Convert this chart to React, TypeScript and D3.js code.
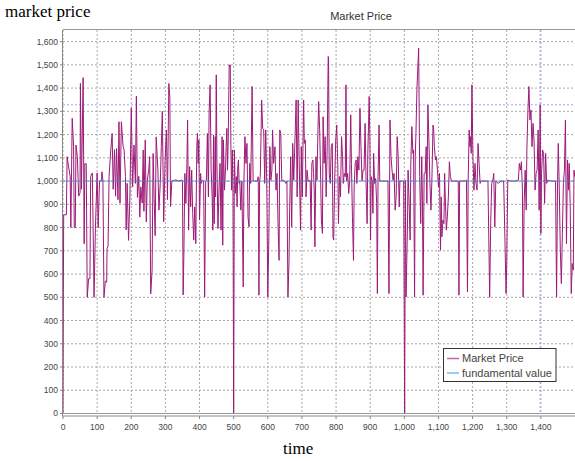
import { scaleLinear, line, format } from "d3";

// time steps and market price at each
const times = [
  0, 1, 2, 10, 12, 15, 21, 23, 27, 31, 33, 36, 38, 42, 46, 50, 51, 54, 59, 62, 64, 68, 71, 75, 79, 81, 86, 91, 95, 100,
  103, 107, 113, 114, 117, 120, 124, 128, 129, 132, 135, 140, 144, 147, 151, 154, 157, 161, 164, 167, 171, 176, 179, 183, 185, 188, 192, 196, 200, 204,
  208, 212, 215, 218, 222, 225, 228, 232, 235, 237, 241, 244, 247, 251, 254, 257, 261, 264, 267, 270, 273, 278, 281, 285, 288, 291, 295, 299, 303, 306,
  310, 313, 315, 319, 330, 340, 348, 350, 352, 354, 357, 360, 363, 365, 368, 371, 374, 377, 380, 383, 386, 389, 392, 394, 396, 398, 400, 403, 405, 408,
  412, 415, 418, 420, 423, 426, 428, 431, 434, 437, 439, 441, 443, 446, 447, 449, 451, 454, 457, 460, 463, 466, 468, 470, 473, 476, 478, 480, 482, 484,
  487, 488, 490, 492, 494, 496, 498, 500, 502, 505, 508, 510, 512, 514, 516, 518, 521, 524, 528, 530, 533, 536, 539, 542, 545, 547, 550, 554, 557, 561,
  565, 569, 572, 574, 576, 578, 582, 585, 588, 591, 594, 597, 600, 603, 606, 609, 612, 614, 617, 621, 624, 627, 630, 633, 635, 638, 641, 645, 649, 653,
  656, 659, 662, 664, 667, 670, 673, 676, 679, 683, 686, 689, 691, 693, 696, 698, 701, 705, 707, 710, 712, 715, 718, 721, 724, 727, 729, 732, 734, 736,
  738, 741, 744, 747, 749, 752, 754, 757, 760, 762, 765, 768, 771, 774, 777, 778, 780, 783, 786, 789, 791, 793, 796, 799, 802, 805, 807, 810, 813, 816,
  819, 821, 824, 827, 829, 831, 834, 837, 840, 843, 845, 848, 851, 853, 856, 859, 861, 864, 867, 870, 873, 876, 879, 882, 885, 888, 891, 893, 895, 897,
  899, 901, 903, 906, 908, 910, 913, 916, 919, 921, 923, 926, 928, 934, 942, 949, 952, 955, 958, 961, 964, 967, 970, 973, 976, 979, 982, 985, 987, 994,
  998, 1001, 1003, 1005, 1007, 1009, 1011, 1014, 1017, 1019, 1022, 1025, 1027, 1030, 1032, 1034, 1037, 1042, 1045, 1048, 1051, 1053, 1055, 1058, 1061, 1064, 1066, 1069, 1072, 1075,
  1078, 1081, 1084, 1086, 1088, 1091, 1094, 1097, 1100, 1103, 1106, 1108, 1110, 1113, 1116, 1118, 1120, 1123, 1126, 1129, 1132, 1135, 1138, 1148, 1158, 1160, 1162, 1170, 1178, 1182,
  1185, 1187, 1190, 1192, 1194, 1196, 1198, 1201, 1204, 1207, 1210, 1213, 1216, 1219, 1222, 1225, 1236, 1245, 1250, 1253, 1256, 1259, 1262, 1265, 1268, 1275, 1283, 1291, 1295, 1298,
  1300, 1303, 1311, 1318, 1326, 1334, 1337, 1340, 1343, 1346, 1348, 1351, 1354, 1357, 1359, 1362, 1365, 1368, 1371, 1374, 1377, 1380, 1383, 1386, 1389, 1392, 1395, 1398, 1400, 1402,
  1405, 1408, 1411, 1414, 1417, 1420, 1430, 1443, 1446, 1449, 1451, 1454, 1457, 1460, 1463, 1466, 1469, 1472, 1475, 1478, 1481, 1483, 1486, 1489, 1492, 1495, 1497, 1499,
];
const prices = [
  0, 500, 855, 855, 1105, 1075, 1020, 800, 1270, 1150, 800, 800, 1155, 1105, 935, 950, 1420, 965, 1445, 730, 1075, 1075, 500, 580, 580, 1020, 1035, 500, 800, 1035,
  800, 1000, 1000, 1040, 1000, 500, 570, 565, 710, 720, 1020, 1135, 1205, 965, 1135, 935, 1140, 920, 1255, 905, 1255, 1150, 1135, 1020, 790, 990, 745, 930, 1315, 975,
  1155, 990, 1365, 930, 1020, 845, 975, 905, 1134, 870, 1177, 825, 1004, 1047, 1105, 515, 615, 1119, 925, 765, 1190, 1047, 875, 990, 1148, 1300, 825, 1085, 1220, 920,
  1420, 1363, 890, 1000, 1005, 1000, 1005, 1000, 510, 675, 1033, 904, 1076, 1263, 789, 1062, 889, 1047, 861, 746, 889, 731, 1148, 1205, 1076, 1177, 832, 1033, 990, 1004,
  1000, 501, 1000, 1004, 1205, 932, 1292, 1414, 1047, 932, 789, 1198, 817, 1191, 932, 1457, 1076, 796, 961, 1076, 789, 1191, 724, 1177, 961, 1047, 1148, 1227, 1047, 1177,
  1500, 1493, 1500, 1134, 961, 1134, 940, 0, 1134, 947, 1019, 889, 1062, 1091, 990, 1000, 875, 1000, 544, 1000, 1191, 1076, 1162, 846, 803, 1076, 990, 1407, 1000, 1000,
  1000, 1000, 1019, 509, 1000, 1019, 1349, 1227, 1220, 990, 1220, 990, 501, 753, 1148, 1004, 1047, 1220, 1076, 1148, 961, 1033, 817, 659, 1220, 1205, 1000, 1004, 1000, 990,
  1000, 501, 645, 875, 1105, 803, 1162, 1004, 1148, 1349, 932, 1349, 1162, 1004, 789, 1148, 932, 1349, 1162, 1177, 932, 1047, 1000, 1000, 1004, 789, 1076, 1091, 1033, 961,
  717, 1105, 1004, 1220, 1342, 1220, 1076, 832, 775, 1277, 1076, 1191, 932, 1148, 1536, 1529, 1033, 990, 1148, 1162, 760, 746, 1004, 1177, 1241, 1076, 817, 1019, 932, 1191,
  1105, 990, 1033, 1019, 1414, 1000, 1033, 947, 1004, 1285, 1076, 846, 659, 975, 1076, 1091, 990, 1105, 1047, 1313, 1148, 1000, 1047, 1047, 1248, 990, 817, 1119, 1234, 1364,
  1191, 746, 1019, 1000, 861, 1119, 990, 1011, 904, 516, 1019, 1241, 1000, 1000, 1000, 1000, 1000, 516, 1263, 1105, 1047, 1004, 1033, 875, 932, 1191, 1105, 889, 1000, 1000,
  1000, 0, 1004, 501, 645, 789, 1047, 904, 746, 1076, 1234, 1119, 1134, 501, 1105, 1205, 1400, 1572, 1019, 817, 1105, 918, 509, 1033, 1033, 1148, 904, 1328, 1177, 990,
  875, 1019, 1241, 1220, 1148, 1091, 1105, 1047, 976, 1033, 703, 932, 760, 832, 817, 1033, 932, 789, 846, 932, 1083, 1019, 1000, 1000, 1000, 509, 1000, 1000, 1000, 1004,
  523, 1004, 1220, 1148, 1191, 1119, 1414, 1105, 961, 1076, 990, 961, 1162, 1076, 990, 1000, 1000, 1000, 500, 817, 990, 1000, 1033, 803, 1000, 990, 1000, 1000, 731, 516,
  645, 1004, 1000, 1000, 1000, 1004, 1076, 1047, 1083, 961, 501, 904, 1047, 875, 1134, 1299, 1407, 1263, 1306, 1148, 1248, 1177, 961, 1033, 1047, 1220, 875, 1328, 774, 1033,
  1134, 1119, 904, 1119, 990, 1004, 1000, 1000, 501, 1004, 1162, 961, 703, 559, 774, 990, 1047, 1263, 731, 1091, 961, 1076, 889, 516, 645, 617, 1047, 1019,
];
const fundamentalValue = 1000;
const crosshairTime = 1398;
const crosshairPrice = 1328;

const xTicks = [0, 100, 200, 300, 400, 500, 600, 700, 800, 900, 1000, 1100, 1200, 1300, 1400];
const yTicks = [0, 100, 200, 300, 400, 500, 600, 700, 800, 900, 1000, 1100, 1200, 1300, 1400, 1500, 1600];
const seriesNames = ["Market Price", "fundamental value"];

const W = 575;
const H = 461;
const left = 63;
const top = 30;
const bottom = 413.5;
const right = 576;

const priceColor = "#9c1a78";
const fundColor = "#4a90c8";
const gridColor = "#a8a8a8";
const labelFont = "'Liberation Sans', Arial, sans-serif";

export default function App() {
  const x = scaleLinear().domain([0, 1500]).range([left, 575]);
  const y = scaleLinear().domain([0, 1650]).range([bottom, top]);
  const fmt = format(",");

  const pts: [number, number][] = times.map((t, i) => [t, prices[i]]);
  const pricePath = line<[number, number]>()
    .x((d) => x(d[0]))
    .y((d) => y(d[1]))(pts);

  return (
    <svg
      width={W}
      height={H}
      style={{ position: "absolute", left: 0, top: 0, background: "#fff" }}
    >
      <defs>
        <clipPath id="plot">
          <rect x={left} y={top} width={right - left} height={bottom - top} />
        </clipPath>
      </defs>

      {/* grid */}
      {yTicks.map((v) => (
        <line key={"gy" + v} x1={left} x2={right} y1={y(v)} y2={y(v)}
          stroke={gridColor} strokeDasharray="2,2" />
      ))}
      {xTicks.map((t) => (
        <line key={"gx" + t} x1={x(t)} x2={x(t)} y1={top} y2={bottom}
          stroke={gridColor} strokeDasharray="2,2" />
      ))}

      {/* crosshair */}
      <line x1={left} x2={right} y1={y(crosshairPrice)} y2={y(crosshairPrice)}
        stroke="#a0a0ff" strokeDasharray="2,2" />
      <line x1={x(crosshairTime)} x2={x(crosshairTime)} y1={top} y2={bottom}
        stroke="#a0a0ff" strokeDasharray="2,2" />

      <g clipPath="url(#plot)">
        <path d={pricePath ?? ""} fill="none" stroke={priceColor} strokeWidth={1} />
        <line x1={left} x2={right} y1={y(fundamentalValue)} y2={y(fundamentalValue)}
          stroke={fundColor} strokeWidth={1} opacity={0.75} />
      </g>

      {/* plot frame + axes */}
      <line x1={left} x2={right} y1={top - 0.5} y2={top - 0.5} stroke="#999" />
      <line x1={left} x2={right} y1={bottom} y2={bottom} stroke="#999" />
      <line x1={left - 0.5} x2={left - 0.5} y1={top} y2={bottom + 3} stroke="#888" />
      <line x1={left} x2={right} y1={bottom + 2.5} y2={bottom + 2.5} stroke="#888" />

      {yTicks.map((v) => (
        <g key={"yt" + v}>
          <line x1={left - 3} x2={left - 0.5} y1={y(v)} y2={y(v)} stroke="#888" />
          <text x={left - 5} y={y(v)} dy="0.35em" textAnchor="end"
            fontFamily={labelFont} fontSize={8.5} fill="#444">{fmt(v)}</text>
        </g>
      ))}
      {xTicks.map((t) => (
        <g key={"xt" + t}>
          <line x1={x(t)} x2={x(t)} y1={bottom + 2.5} y2={bottom + 5.5} stroke="#888" />
          <text x={x(t)} y={bottom + 16.5} textAnchor="middle"
            fontFamily={labelFont} fontSize={8.5} fill="#444">{fmt(t)}</text>
        </g>
      ))}

      {/* titles */}
      <text x={361} y={20} textAnchor="middle" fontFamily={labelFont} fontSize={11} fill="#333">
        Market Price
      </text>
      <text x={5} y={17} fontFamily="'Liberation Serif', 'Times New Roman', serif" fontSize={17} fill="#000">
        market price
      </text>
      <text x={283} y={454} fontFamily="'Liberation Serif', 'Times New Roman', serif" fontSize={17} fill="#000">
        time
      </text>

      {/* legend */}
      <g>
        <rect x={443.5} y={348.5} width={112.5} height={33} fill="#fff" stroke="#333" />
        <line x1={447} x2={459} y1={358.5} y2={358.5} stroke="#c266aa" strokeWidth={1.5} />
        <text x={462} y={362} fontFamily={labelFont} fontSize={11} fill="#444">{seriesNames[0]}</text>
        <line x1={447} x2={459} y1={373} y2={373} stroke="#6ec0e6" strokeWidth={1.5} />
        <text x={462} y={377} fontFamily={labelFont} fontSize={11} fill="#444">{seriesNames[1]}</text>
      </g>
    </svg>
  );
}
